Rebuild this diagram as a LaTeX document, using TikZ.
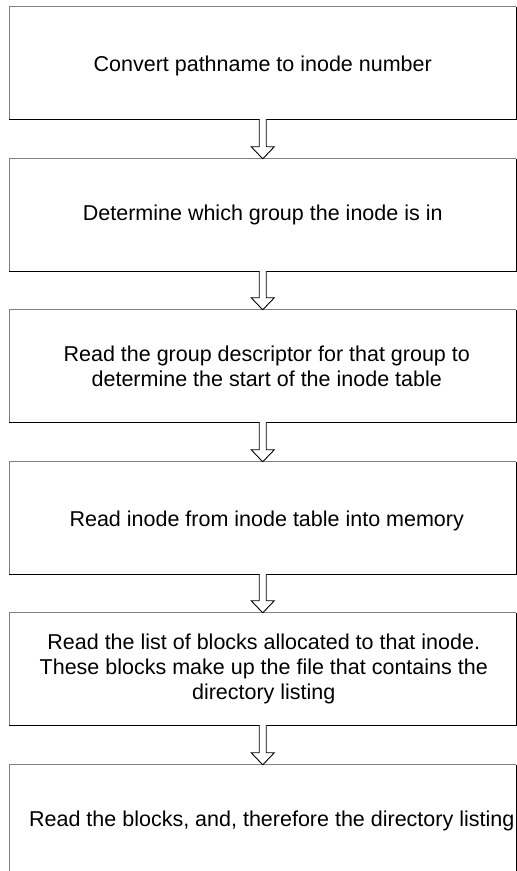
\documentclass[tikz,border=0pt]{standalone}
\usepackage{fontspec}
\setmainfont{Liberation Sans}
\usetikzlibrary{calc}
\tikzset{
  stepbox/.style={rectangle, draw=none, minimum width=506.5pt, minimum height=112pt, inner sep=0pt},
  steptext/.style={align=center, inner sep=0pt, font=\fontsize{21.5pt}{24.7pt}\selectfont},
  litedge/.style={draw=black!50, line width=1pt},
  darkedge/.style={draw=black, line width=1pt},
  flowarrow/.style={draw=black, line width=0.9pt, fill=white, line join=miter},
}
\begin{document}
\begin{tikzpicture}[x=1pt,y=1pt]
  \useasboundingbox (0,0) rectangle (517,871);
  % step boxes, tops measured from the upper edge of the page
  \foreach \n/\t in {1/7,2/159,3/310,4/462,5/613,6/765}{
    \node[stepbox] (b\n) at (262.75,{871-\t-56}) {};
  }
  % shaded frame: light upper/left edges, dark lower/right edges
  \begin{scope}
    \clip (0,0) rectangle (517,871);
    \foreach \n in {1,...,6}{
      \draw[litedge] (b\n.south west) -- (b\n.north west) -- (b\n.north east);
      \draw[darkedge] (b\n.north east) -- (b\n.south east) -- (b\n.south west);
    }
  \end{scope}
  % hollow block arrows between consecutive steps
  \foreach \a/\b in {b1/b2,b2/b3,b3/b4,b4/b5,b5/b6}{
    \draw[flowarrow] ($(\a.south)+(-3.5,0)$) -- ($(\b.north)+(-3.5,12)$)
      -- ($(\b.north)+(-11.5,12)$) -- (\b.north) -- ($(\b.north)+(11.5,12)$)
      -- ($(\b.north)+(3.5,12)$) -- ($(\a.south)+(3.5,0)$);
  }
  % step texts
  \node[steptext] (t1) at ($(b1.center)+(0,-3)$) {Convert pathname to inode number};
  \node[steptext] (t2) at ($(b2.center)+(0,0)$) {Determine which group the inode is in};
  \node[steptext] (t3) at ($(b3.center)+(4,0)$) {Read the group descriptor for that group to\\determine the start of the inode table};
  \node[steptext] (t4) at ($(b4.center)+(4,-3)$) {Read inode from inode table into memory};
  \node[steptext] (t5) at ($(b5.center)+(1,0)$) {Read the list of blocks allocated to that inode.\\These blocks make up the file that contains the\\directory listing};
  \node[steptext] (t6) at ($(b6.center)+(9,0)$) {Read the blocks, and, therefore the directory listing};
\end{tikzpicture}
\end{document}
